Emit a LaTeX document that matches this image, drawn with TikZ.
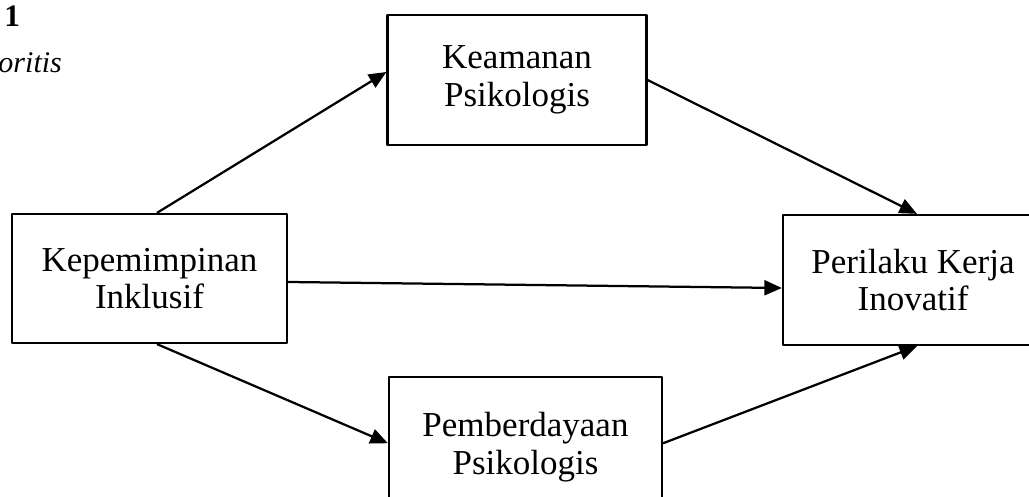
\documentclass[tikz,border=0pt]{standalone}
\usepackage{fontspec}
\setmainfont{Liberation Serif}
\usetikzlibrary{arrows.meta}
\tikzset{
  varbox/.style={draw, line width=0.9pt, align=center, inner sep=0pt,
    font=\fontsize{14}{15}\selectfont},
  path/.style={line width=0.9pt, -{Triangle[length=7pt,width=6pt]}}
}
\begin{document}
\begin{tikzpicture}[x=0.4pt, y=-0.4pt, line join=round]
	%%%%%%%%%%%%%%%%%%%%%%%%%%%%%%%%%
	\useasboundingbox (0,0) rectangle (1029,497);
	%%%%%%%%%%%%%%%%%%%%%%%%%%%%%%%%%
	\node[anchor=base west, inner sep=0pt, font=\fontsize{12.5}{14.8}\selectfont\bfseries] (nomor) at (4,27) {1};
	\node[anchor=base west, inner sep=0pt, font=\fontsize{12}{14.8}\selectfont\itshape] (judul) at (-2,73) {oritis};
	%%%%%%%%%%%%%%%%%%%%%%%%%%%%%%%%%
	\node[varbox, minimum width=110pt, minimum height=51.6pt] (kep) at (149.5,278.5) {Kepemimpinan\\Inklusif};
	\node[varbox, minimum width=103.6pt, minimum height=52pt] (kea) at (517,80) {Keamanan\\Psikologis};
	\node[varbox, minimum width=109.2pt, minimum height=56pt] (pem) at (525.5,447) {Pemberdayaan\\Psikologis};
	\node[varbox, minimum width=104pt, minimum height=52pt] (per) at (913,280) {Perilaku Kerja\\Inovatif};
	%%%%%%%%%%%%%%%%%%%%%%%%%%%%%%%%%
	\draw[path] ([xshift=3pt]kep.north) -- ([yshift=3.2pt]kea.west);
	\draw[path] (kea.east) -- ([xshift=1.6pt]per.north);
	\draw[path] ([yshift=-1.4pt]kep.east) -- ([yshift=-3.2pt]per.west);
	\draw[path] ([xshift=3pt]kep.south) -- ([yshift=1.5pt]pem.west);
	\draw[path] ([yshift=1.5pt]pem.east) -- ([xshift=1.6pt]per.south);
	%%%%%%%%%%%%%%%%%%%%%%%%%%%%%%%%%
\end{tikzpicture}
\end{document}
